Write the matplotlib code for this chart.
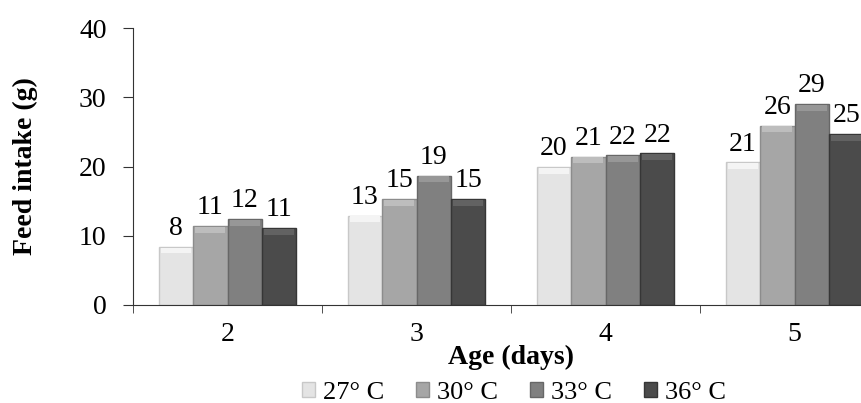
import matplotlib.pyplot as plt
import numpy as np

plt.rcParams['font.family'] = ['Liberation Serif', 'DejaVu Serif']

ages = ['2', '3', '4', '5']
series_names = ['27° C', '30° C', '33° C', '36° C']
t27 = [8.4, 12.9, 19.9, 20.6]
t30 = [11.4, 15.3, 21.4, 25.9]
t33 = [12.4, 18.7, 21.6, 29.0]
t36 = [11.1, 15.3, 21.9, 24.7]

colors = ['#e4e4e4', '#a6a6a6', '#808080', '#4b4b4b']
tops = ['#f4f4f4', '#bdbdbd', '#979797', '#626262']
edges = ['#c8c8c8', '#8c8c8c', '#676767', '#363636']

W, H = 861, 403
fig = plt.figure(figsize=(W / 100, H / 100), dpi=100)
# plot area runs past the right edge, like the cropped original
ax = fig.add_axes([133 / W, (H - 305) / H, 756 / W, 277 / H])

x = np.arange(len(ages))
bw = 0.1825
series = [t27, t30, t33, t36]
for i, vals in enumerate(series):
    pos = x + (i - 1.5) * bw
    bars = ax.bar(pos, vals, bw, color=colors[i], edgecolor=edges[i],
                  linewidth=1, label=series_names[i], zorder=2)
    # light bevel at the top of each bar
    ax.bar(pos, [0.85] * len(vals), bw * 0.88, bottom=[v - 0.95 for v in vals],
           color=tops[i], linewidth=0, zorder=3)
    for b, v in zip(bars, vals):
        ax.text(b.get_x() + b.get_width() / 2, v + 1.7, f'{v:.0f}',
                ha='center', va='baseline', fontsize=20)

ax.set_xlim(-0.5, 3.5)
ax.set_ylim(0, 40)
ax.set_yticks([0, 10, 20, 30, 40])
ax.set_xticks(x)
ax.set_xticklabels(ages)
ax.set_xticks(np.arange(-0.5, 3.6, 1), minor=True)
ax.tick_params(axis='x', which='major', length=0, labelsize=20, pad=12)
ax.tick_params(axis='x', which='minor', length=6, direction='out', color='#333333')
ax.tick_params(axis='y', labelsize=20, length=7, pad=12, color='#333333')

for s in ['top', 'right']:
    ax.spines[s].set_visible(False)
ax.spines['left'].set_color('#333333')
ax.spines['bottom'].set_color('#333333')

fig.text(25 / W, (H - 166) / H, 'Feed intake (g)', rotation=90,
         ha='center', va='center', fontsize=20, fontweight='bold')
fig.text(511 / W, (H - 357) / H, 'Age (days)', ha='center', va='center',
         fontsize=20, fontweight='bold')

fig.legend(loc='center', bbox_to_anchor=(514 / W, (H - 393) / H), ncol=4,
           frameon=False, fontsize=19, handlelength=0.5, handleheight=0.5,
           handletextpad=0.3, columnspacing=1.2, borderpad=0)

fig.savefig('out.png', dpi=100)
